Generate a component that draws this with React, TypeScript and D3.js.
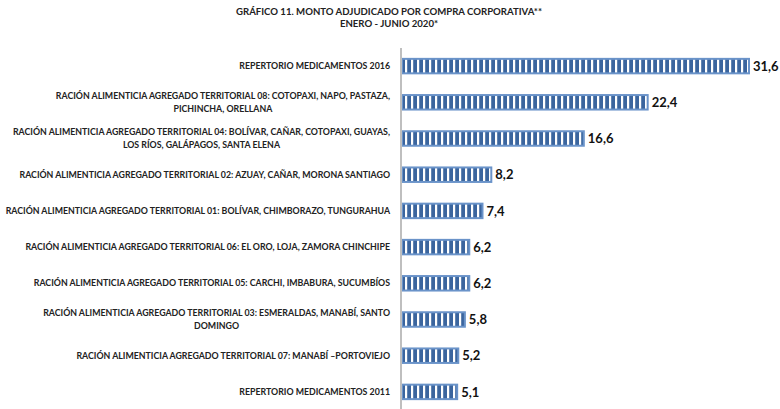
import React, { useEffect, useRef } from 'react';
import * as d3 from 'd3';

const titleLines = ['GRÁFICO 11. MONTO ADJUDICADO POR COMPRA CORPORATIVA**', 'ENERO - JUNIO 2020*'];

const categories: string[][] = [
  ['REPERTORIO MEDICAMENTOS 2016'],
  ['RACIÓN ALIMENTICIA AGREGADO TERRITORIAL 08: COTOPAXI, NAPO, PASTAZA,', 'PICHINCHA, ORELLANA'],
  ['RACIÓN ALIMENTICIA AGREGADO TERRITORIAL 04: BOLÍVAR, CAÑAR, COTOPAXI, GUAYAS,', 'LOS RÍOS, GALÁPAGOS, SANTA ELENA'],
  ['RACIÓN ALIMENTICIA AGREGADO TERRITORIAL 02: AZUAY, CAÑAR, MORONA SANTIAGO'],
  ['RACIÓN ALIMENTICIA AGREGADO TERRITORIAL 01: BOLÍVAR, CHIMBORAZO, TUNGURAHUA'],
  ['RACIÓN ALIMENTICIA AGREGADO TERRITORIAL 06: EL ORO, LOJA, ZAMORA CHINCHIPE'],
  ['RACIÓN ALIMENTICIA AGREGADO TERRITORIAL 05: CARCHI, IMBABURA, SUCUMBÍOS'],
  ['RACIÓN ALIMENTICIA AGREGADO TERRITORIAL 03: ESMERALDAS, MANABÍ, SANTO', 'DOMINGO'],
  ['RACIÓN ALIMENTICIA AGREGADO TERRITORIAL 07: MANABÍ –PORTOVIEJO'],
  ['REPERTORIO MEDICAMENTOS 2011'],
];

const values = [31.6, 22.4, 16.6, 8.2, 7.4, 6.2, 6.2, 5.8, 5.2, 5.1];

const W = 780;
const H = 409;
const FONT = 'Lato, "Open Sans", sans-serif';

const App = () => {
  const ref = useRef<SVGGElement>(null);

  useEffect(() => {
    const g = d3.select(ref.current);
    g.selectAll('*').remove();

    const x = d3.scaleLinear().domain([0, 31.6]).range([401, 749]);
    const y = d3
      .scaleBand()
      .domain(categories.map((c, i) => String(i)))
      .range([48, 410])
      .paddingInner(0.6)
      .paddingOuter(0.3);

    // title
    g.selectAll('text.title')
      .data(titleLines)
      .enter()
      .append('text')
      .attr('class', 'title')
      .attr('x', 389)
      .attr('y', (d, i) => 15 + i * 11.5)
      .attr('text-anchor', 'middle')
      .style('font-family', FONT)
      .style('font-weight', 'bold')
      .style('font-size', '9.6px')
      .style('fill', '#222')
      .text((d) => d);

    // bars
    g.selectAll('rect.bar')
      .data(values)
      .enter()
      .append('rect')
      .attr('class', 'bar')
      .attr('x', x(0) + 1)
      .attr('y', (d, i) => y(String(i))!)
      .attr('width', (d) => x(d) - x(0) - 1)
      .attr('height', y.bandwidth())
      .attr('fill', 'url(#stripes)')
      .attr('stroke', '#6a93c9')
      .attr('stroke-width', 2);

    // value labels
    g.selectAll('text.value')
      .data(values)
      .enter()
      .append('text')
      .attr('class', 'value')
      .attr('x', (d) => x(d) + 4)
      .attr('y', (d, i) => y(String(i))! + y.bandwidth() / 2)
      .attr('dy', '0.36em')
      .style('font-family', FONT)
      .style('font-weight', 'bold')
      .style('font-size', '13px')
      .style('fill', '#111')
      .text((d) => d3.format('.1f')(d).replace('.', ','));

    // axis line
    g.append('line')
      .attr('x1', x(0))
      .attr('x2', x(0))
      .attr('y1', 48)
      .attr('y2', H)
      .attr('stroke', '#bfbfbf')
      .attr('stroke-width', 2);

    // category labels: block right-aligned, lines centred inside it
    categories.forEach((lines, i) => {
      const cy = y(String(i))! + y.bandwidth() / 2;
      const texts = lines.map((line, j) =>
        g
          .append('text')
          .attr('y', cy + (j - (lines.length - 1) / 2) * 12.5)
          .attr('dy', '0.35em')
          .attr('text-anchor', 'middle')
          .style('font-family', FONT)
          .style('font-weight', 'bold')
          .style('font-size', '8.8px')
          .style('fill', '#222')
          .text(line)
      );
      const widths = texts.map((t) => (t.node() as SVGTextElement).getComputedTextLength());
      const maxW = d3.max(widths) || 0;
      texts.forEach((t) => t.attr('x', 390 - maxW / 2));
    });
  }, []);

  return (
    <svg width={W} height={H} style={{ display: 'block', position: 'absolute', left: 0, top: 0 }}>
      <defs>
        <pattern id="stripes" patternUnits="userSpaceOnUse" width={6} height={10}>
          <rect width={6} height={10} fill="#3b659e" />
          <rect x={3} width={2.2} height={10} fill="#ffffff" />
        </pattern>
      </defs>
      <rect width={W} height={H} fill="#fff" />
      <g ref={ref} />
    </svg>
  );
};

export default App;
